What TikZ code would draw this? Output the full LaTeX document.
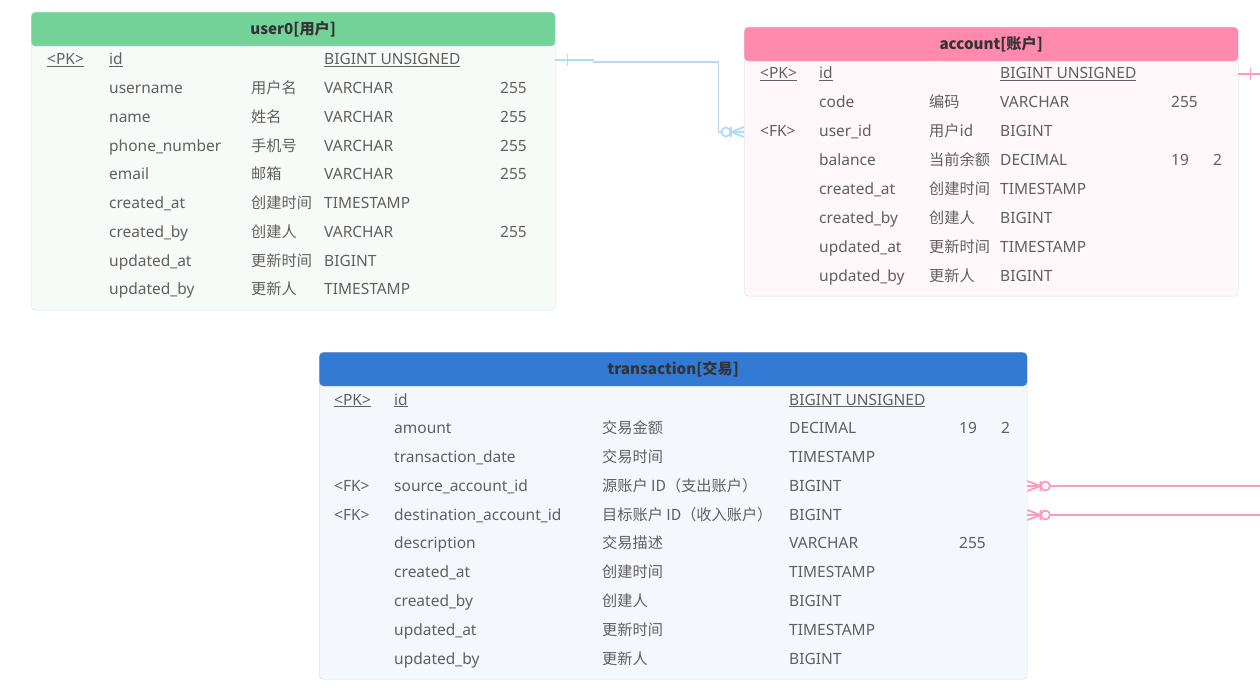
\documentclass[tikz,border=0pt]{standalone}
\usepackage{fontspec}
\setmainfont{Noto Sans}
\newfontfamily\cjk[Scale=0.98]{Noto Sans CJK SC}

\definecolor{userhead}{HTML}{74D398}
\definecolor{userbody}{HTML}{F7FBF8}
\definecolor{accthead}{HTML}{FF8AAD}
\definecolor{acctbody}{HTML}{FFF7F9}
\definecolor{trnhead}{HTML}{337AD4}
\definecolor{trnbody}{HTML}{F4F7FC}
\definecolor{tborder}{HTML}{D5DCE6}
\definecolor{celltext}{HTML}{606060}
\definecolor{titletext}{HTML}{333333}
\definecolor{bluelink}{HTML}{B3DAF7}
\definecolor{pinklink}{HTML}{FF9ABA}

\begin{document}
\begin{tikzpicture}[x=1pt, y=-1pt]
    \tikzset{
        tbody/.style={draw=tborder, rounded corners=4pt, anchor=north west, inner sep=0pt},
        thead/.style={tbody, minimum height=34pt, text=titletext, font=\fontsize{15.5}{17}\cjk\bfseries},
        cell/.style={anchor=base west, inner sep=0pt, text=celltext, font=\fontsize{15.5}{17}\selectfont},
        link/.style={line width=1.8pt},
        one/.pic={\draw (0,-6) -- (0,6);},
        zeromany/.pic={
            \draw (0,-5) -- (-13,0) -- (0,5) (0,0) -- (-13,0) (-13,-5) -- (-13,5);
            \draw[fill=white] (-18,0) circle (4.5pt);}
        }
    \useasboundingbox (0,0) rectangle (1260,700);

    %user0 table
    \node (user0) [tbody, fill=userbody, minimum width=524pt, minimum height=298pt] at (31,12) {};
    \node (user0-head) [thead, fill=userhead, minimum width=524pt] at (31,12) {user0[用户]};
    \node (u-k1) [cell] at (47,65) {\underline{<PK>}};
    \node (u-n1) [cell] at (109,65) {\underline{id}};
    \node (u-t1) [cell] at (324,65) {\underline{BIGINT UNSIGNED}};
    \coordinate (u-r1) at (0,60);
    \foreach \n/\c/\t/\l [count=\i from 2] in {
        username/用户名/VARCHAR/255, name/姓名/VARCHAR/255,
        phone\_number/手机号/VARCHAR/255, email/邮箱/VARCHAR/255,
        created\_at/创建时间/TIMESTAMP/{}, created\_by/创建人/VARCHAR/255,
        updated\_at/更新时间/BIGINT/{}, updated\_by/更新人/TIMESTAMP/{}} {
        \node (u-n\i) [cell] at (109,{65+28.75*(\i-1)}) {\n};
        \node (u-c\i) [cell] at (251,{65+28.75*(\i-1)}) {\cjk\c};
        \node (u-t\i) [cell] at (324,{65+28.75*(\i-1)}) {\t};
        \node (u-l\i) [cell] at (500,{65+28.75*(\i-1)}) {\l};
    }

    %account table
    \node (account) [tbody, fill=acctbody, minimum width=494pt, minimum height=269pt] at (744,27) {};
    \node (account-head) [thead, fill=accthead, minimum width=494pt] at (744,27) {account[账户]};
    \node (a-k1) [cell] at (760,79) {\underline{<PK>}};
    \node (a-n1) [cell] at (819,79) {\underline{id}};
    \node (a-t1) [cell] at (1000,79) {\underline{BIGINT UNSIGNED}};
    \coordinate (a-r1) at (0,74);
    \foreach \k/\n/\c/\t/\l/\s [count=\i from 2] in {
        {}/code/编码/VARCHAR/255/{}, <FK>/user\_id/用户id/BIGINT/{}/{},
        {}/balance/当前余额/DECIMAL/19/2, {}/created\_at/创建时间/TIMESTAMP/{}/{},
        {}/created\_by/创建人/BIGINT/{}/{}, {}/updated\_at/更新时间/TIMESTAMP/{}/{},
        {}/updated\_by/更新人/BIGINT/{}/{}} {
        \coordinate (a-r\i) at (0,{round(74+28.86*(\i-1))});
        \node (a-k\i) [cell] at (760,{79+28.86*(\i-1)}) {\k};
        \node (a-n\i) [cell] at (819,{79+28.86*(\i-1)}) {\n};
        \node (a-c\i) [cell] at (929,{79+28.86*(\i-1)}) {\cjk\c};
        \node (a-t\i) [cell] at (1000,{79+28.86*(\i-1)}) {\t};
        \node (a-l\i) [cell] at (1171,{79+28.86*(\i-1)}) {\l};
        \node (a-s\i) [cell] at (1213,{79+28.86*(\i-1)}) {\s};
    }

    %transaction table
    \node (transaction) [tbody, fill=trnbody, minimum width=708pt, minimum height=327pt] at (319,352) {};
    \node (transaction-head) [thead, fill=trnhead, minimum width=708pt] at (319,352) {transaction[交易]};
    \node (t-k1) [cell] at (334,405) {\underline{<PK>}};
    \node (t-n1) [cell] at (394,405) {\underline{id}};
    \node (t-t1) [cell] at (789,405) {\underline{BIGINT UNSIGNED}};
    \foreach \k/\n/\c/\t/\l/\s [count=\i from 2] in {
        {}/amount/交易金额/DECIMAL/19/2, {}/transaction\_date/交易时间/TIMESTAMP/{}/{},
        <FK>/source\_account\_id/源账户 ID（支出账户）/BIGINT/{}/{},
        <FK>/destination\_account\_id/目标账户 ID（收入账户）/BIGINT/{}/{},
        {}/description/交易描述/VARCHAR/255/{}, {}/created\_at/创建时间/TIMESTAMP/{}/{},
        {}/created\_by/创建人/BIGINT/{}/{}, {}/updated\_at/更新时间/TIMESTAMP/{}/{},
        {}/updated\_by/更新人/BIGINT/{}/{}} {
        \coordinate (t-r\i) at (0,{round(400+28.78*(\i-1))});
        \node (t-k\i) [cell] at (334,{405+28.78*(\i-1)}) {\k};
        \node (t-n\i) [cell] at (394,{405+28.78*(\i-1)}) {\n};
        \node (t-c\i) [cell] at (602,{405+28.78*(\i-1)}) {\cjk\c};
        \node (t-t\i) [cell] at (789,{405+28.78*(\i-1)}) {\t};
        \node (t-l\i) [cell] at (959,{405+28.78*(\i-1)}) {\l};
        \node (t-s\i) [cell] at (1001,{405+28.78*(\i-1)}) {\s};
    }

    %links
    \coordinate (offright) at (1260,0);
    \draw[link, bluelink] (user0.east |- u-r1) -- ++(38,0) -- ++(0,2) -- ++(125,0)
        |- (account.west |- a-r3);
    \draw[link, bluelink] (user0.east |- u-r1) pic[xshift=12pt] {one};
    \draw[link, bluelink] (account.west |- a-r3) pic {zeromany};

    \draw[link, pinklink] (account.east |- a-r1) -- (offright |- a-r1);
    \draw[link, pinklink] (account.east |- a-r1) pic[xshift=12pt] {one};
    \draw[link, pinklink] (transaction.east |- t-r4) -- (offright |- t-r4);
    \draw[link, pinklink] (transaction.east |- t-r5) -- (offright |- t-r5);
    \draw[link, pinklink] (transaction.east |- t-r4) pic[rotate=180] {zeromany};
    \draw[link, pinklink] (transaction.east |- t-r5) pic[rotate=180] {zeromany};
\end{tikzpicture}
\end{document}
